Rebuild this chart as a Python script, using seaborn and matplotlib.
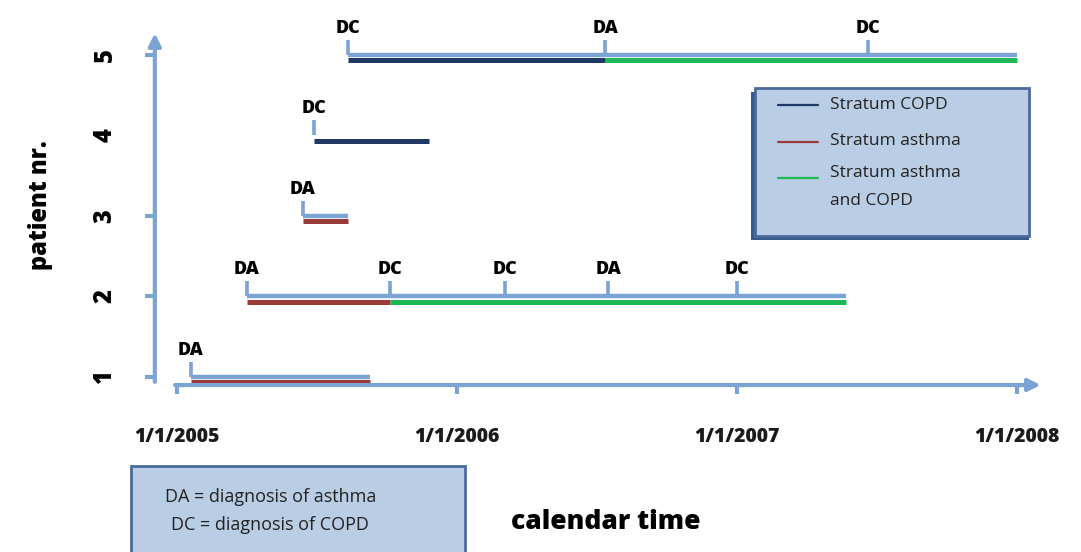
import pandas as pd
import seaborn as sns
import matplotlib.pyplot as plt
from matplotlib.patches import Rectangle
from matplotlib.lines import Line2D

# patient follow-up (decimal years)
patients = [1, 2, 3, 4, 5]
follow_start = [2005.05, 2005.25, 2005.45, 2005.49, 2005.61]
follow_end = [2005.69, 2007.39, 2005.61, 2005.90, 2008.00]
show_followup = [True, True, True, False, True]

# stratum segments
seg_patient = [1, 2, 2, 3, 4, 5, 5]
seg_start = [2005.05, 2005.25, 2005.76, 2005.45, 2005.49, 2005.61, 2006.53]
seg_end = [2005.69, 2005.76, 2007.39, 2005.61, 2005.90, 2006.53, 2008.00]
seg_stratum = ['asthma', 'asthma', 'both', 'asthma', 'COPD', 'COPD', 'both']

# diagnosis events
ev_patient = [1, 2, 2, 2, 2, 2, 3, 4, 5, 5, 5]
ev_time = [2005.05, 2005.25, 2005.76, 2006.17, 2006.54, 2007.00, 2005.45, 2005.49, 2005.61, 2006.53, 2007.47]
ev_label = ['DA', 'DA', 'DC', 'DC', 'DA', 'DC', 'DA', 'DC', 'DC', 'DA', 'DC']

year_ticks = [2005, 2006, 2007, 2008]
year_labels = ['1/1/2005', '1/1/2006', '1/1/2007', '1/1/2008']
patient_ticks = [1, 2, 3, 5]
patient_labels = ['1', '2', '3', '4', '5']

axis_blue = '#7ba3d4'
palette = {'COPD': '#1f3864', 'asthma': '#9b3b38', 'both': '#1db954'}
legend_names = ['Stratum COPD', 'Stratum asthma', 'Stratum asthma', 'and COPD']

sns.set_theme(style='white')
plt.rcParams['font.family'] = ['Open Sans', 'DejaVu Sans']

fig = plt.figure(figsize=(10.81, 5.52), dpi=100)
ax = fig.add_axes([0, 0, 1, 1])
ax.set_xlim(2004.368, 2008.229)
ax.set_ylim(-1.174, 5.683)
ax.axis('off')

# follow-up lines (light blue)
rows = []
for i, p in enumerate(patients):
    if show_followup[i]:
        rows.append({'x': follow_start[i], 'y': p, 'id': i})
        rows.append({'x': follow_end[i], 'y': p, 'id': i})
fdf = pd.DataFrame(rows)
sns.lineplot(data=fdf, x='x', y='y', units='id', estimator=None, color=axis_blue,
             lw=3.2, legend=False, sort=False, ax=ax, solid_capstyle='butt')

# stratum lines
rows = []
for i in range(len(seg_patient)):
    rows.append({'x': seg_start[i], 'y': seg_patient[i] - 0.065, 'id': i, 'stratum': seg_stratum[i]})
    rows.append({'x': seg_end[i], 'y': seg_patient[i] - 0.065, 'id': i, 'stratum': seg_stratum[i]})
sdf = pd.DataFrame(rows)
sns.lineplot(data=sdf, x='x', y='y', units='id', estimator=None, hue='stratum', palette=palette,
             lw=3.6, legend=False, sort=False, ax=ax, solid_capstyle='butt')

# diagnosis ticks and labels
for p, t, lab in zip(ev_patient, ev_time, ev_label):
    ax.plot([t, t], [p, p + 0.19], color=axis_blue, lw=2.6, solid_capstyle='butt')
    ax.text(t, p + 0.33, lab, ha='center', va='center', fontsize=13, fontweight='heavy',
            color='black')

# axes with arrows
x0 = 2004.921
ax.annotate('', xy=(x0, 5.27), xytext=(x0, 0.94),
            arrowprops=dict(arrowstyle='-|>', lw=3, color=axis_blue, mutation_scale=18,
                            shrinkA=0, shrinkB=0))
ax.annotate('', xy=(2008.085, 0.9), xytext=(2004.993, 0.9),
            arrowprops=dict(arrowstyle='-|>', lw=3, color=axis_blue, mutation_scale=18,
                            shrinkA=0, shrinkB=0))
for p in patient_ticks:
    ax.plot([x0 - 0.035, x0], [p, p], color=axis_blue, lw=3, solid_capstyle='butt')
for y in year_ticks:
    ax.plot([y, y], [0.9, 0.79], color=axis_blue, lw=3, solid_capstyle='butt')

# tick labels
for i, lab in enumerate(patient_labels):
    ax.text(2004.743, i + 1, lab, rotation=90, ha='center', va='center',
            fontsize=17, fontweight='heavy', color='black')
for y, lab in zip(year_ticks, year_labels):
    ax.text(y, 0.25, lab, ha='center', va='center', fontsize=14, fontweight='heavy',
            color='#1a1a1a')
ax.text(2004.511, 3.14, 'patient nr.', rotation=90, ha='center', va='center',
        fontsize=17, fontweight='heavy', color='black')
ax.text(2006.53, -0.8, 'calendar time', ha='center', va='center',
        fontsize=19, fontweight='heavy', color='black')

# legend box
fig.patches.append(Rectangle((0.695, 0.565), 0.257, 0.268, transform=fig.transFigure,
                             facecolor='#3a5a8a', edgecolor='none', zorder=1))
fig.patches.append(Rectangle((0.698, 0.572), 0.254, 0.268, transform=fig.transFigure,
                             facecolor='#b9cde5', edgecolor='#4a6b9a', lw=2, zorder=2))
for key, yy in zip(['COPD', 'asthma', 'both'], [0.809, 0.743, 0.677]):
    fig.lines.append(Line2D([0.720, 0.757], [yy, yy], transform=fig.transFigure,
                            color=palette[key], lw=1.6, zorder=3))
for name, yy in zip(legend_names, [0.809, 0.745, 0.687, 0.636]):
    fig.text(0.768, yy, name, ha='left', va='center', fontsize=12.5, color='#222222', zorder=4)

# abbreviation box
fig.patches.append(Rectangle((0.121, -0.01), 0.309, 0.165, transform=fig.transFigure,
                             facecolor='#b9cde5', edgecolor='#4a6b9a', lw=2, zorder=2))
fig.text(0.153, 0.1, 'DA = diagnosis of asthma', ha='left', va='center', fontsize=13,
         color='#222222', zorder=4)
fig.text(0.158, 0.049, 'DC = diagnosis of COPD', ha='left', va='center', fontsize=13,
         color='#222222', zorder=4)

fig.savefig('out.png', dpi=100)
